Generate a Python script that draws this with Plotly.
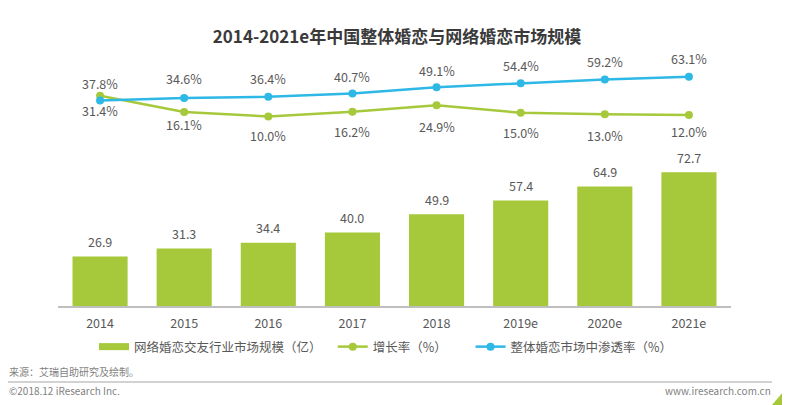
import plotly.graph_objects as go

# ---------------- data ----------------
years = ["2014", "2015", "2016", "2017", "2018", "2019e", "2020e", "2021e"]
market_size = [26.9, 31.3, 34.4, 40.0, 49.9, 57.4, 64.9, 72.7]          # 亿
growth_rate = [37.8, 16.1, 10.0, 16.2, 24.9, 15.0, 13.0, 12.0]          # %
penetration = [31.4, 34.6, 36.4, 40.7, 49.1, 54.4, 59.2, 63.1]          # %

title_text = "2014-2021e年中国整体婚恋与网络婚恋市场规模"
name_bar = "网络婚恋交友行业市场规模（亿）"
name_growth = "增长率（%）"
name_pen = "整体婚恋市场中渗透率（%）"
source_text = "来源：艾瑞自助研究及绘制。"
copyright_text = "©2018.12 iResearch Inc."
site_text = "www.iresearch.com.cn"

# ---------------- style ----------------
OFF = 8                      # page body margin of the browser
W, H = 790 - OFF, 405 - OFF
ML, MR, MT, MB = 58 - OFF, 59, 60 - OFF, 99
PW, PH = W - ML - MR, H - MT - MB
GREEN = "#A6C93B"
BLUE = "#2DB8E6"
TXT = "#595959"
FONT = "Noto Sans CJK SC, Noto Sans, sans-serif"
# label offsets in px (style only)
growth_label_shift = [12, -13, -19, -20, -21, -20, -21, -16]
pen_label_shift = [-10, 20, 18, 17, 17, 18, 18, 18]


def px_x(px):
    """reference-screen pixel -> plot-area paper fraction"""
    return (px - OFF - ML) / PW


def px_y(py):
    return (H - MB - (py - OFF)) / PH


fig = go.Figure()

fig.add_trace(go.Bar(
    x=years, y=market_size, marker=dict(color=GREEN, line=dict(width=0)),
    showlegend=False, hoverinfo="skip", yaxis="y"))

# legend proxy for bars (flat swatch)
fig.add_trace(go.Scatter(
    x=[None], y=[None], mode="lines", line=dict(color=GREEN, width=7),
    name=name_bar + "\u3000", yaxis="y"))

fig.add_trace(go.Scatter(
    x=years, y=growth_rate, mode="lines+markers", yaxis="y2",
    line=dict(color=GREEN, width=2.5), marker=dict(color=GREEN, size=8),
    name=name_growth + "\u3000\u3000"))

fig.add_trace(go.Scatter(
    x=years, y=penetration, mode="lines+markers", yaxis="y2",
    line=dict(color=BLUE, width=2.5), marker=dict(color=BLUE, size=8),
    name=name_pen))

lab_font = dict(size=12.5, color=TXT, family=FONT)
annotations = []
# bar value labels
for i, v in enumerate(market_size):
    annotations.append(dict(x=i, y=v, xref="x", yref="y", text=f"{v:.1f}",
                            showarrow=False, yanchor="middle", yshift=15,
                            font=lab_font))
# percent labels
for i, (g, p) in enumerate(zip(growth_rate, penetration)):
    annotations.append(dict(x=i, y=g, xref="x", yref="y2", text=f"{g:.1f}%",
                            showarrow=False, yanchor="middle",
                            yshift=growth_label_shift[i], font=lab_font))
    annotations.append(dict(x=i, y=p, xref="x", yref="y2", text=f"{p:.1f}%",
                            showarrow=False, yanchor="middle",
                            yshift=pen_label_shift[i], font=lab_font))

foot_font = dict(size=10, color="#7f7f7f", family=FONT)
annotations.append(dict(x=px_x(7), y=px_y(371), xref="paper", yref="paper",
                        text=source_text, showarrow=False, xanchor="left",
                        yanchor="middle", font=foot_font))
annotations.append(dict(x=px_x(7), y=px_y(390), xref="paper", yref="paper",
                        text=copyright_text, showarrow=False, xanchor="left",
                        yanchor="middle", font=foot_font))
annotations.append(dict(x=px_x(773), y=px_y(390), xref="paper", yref="paper",
                        text=site_text, showarrow=False, xanchor="right",
                        yanchor="middle", font=foot_font))

shapes = [
    dict(type="line", xref="paper", yref="paper", x0=px_x(OFF), x1=px_x(772),
         y0=px_y(382), y1=px_y(382), line=dict(color="#a6a6a6", width=1.2)),
    dict(type="path", xref="paper", yref="paper",
         path=(f"M {px_x(772)} {px_y(405)} L {px_x(790)} {px_y(384)} "
               f"L {px_x(790)} {px_y(405)} Z"),
         fillcolor=GREEN, line=dict(width=0)),
]

top_bar = PH / 1.84
zero_px_above_base = 306 - 124
sc = 0.75
y2_min = -zero_px_above_base / sc
y2_max = (PH - zero_px_above_base) / sc

fig.update_layout(
    width=W, height=H,
    margin=dict(l=ML, r=MR, t=MT, b=MB, pad=0),
    paper_bgcolor="white", plot_bgcolor="white",
    font=dict(family=FONT, color=TXT, size=12.5),
    title=dict(text=f"<b>{title_text}</b>", x=(397 - OFF) / W, xref="container",
               xanchor="center", y=1 - (37 - OFF) / H, yref="container",
               yanchor="middle", font=dict(size=17, color="#3a3a3a", family=FONT)),
    bargap=0.345,
    xaxis=dict(type="category", range=[-0.5, 7.5], showline=True,
               linecolor="#bfbfbf", linewidth=1.5, ticks="", showgrid=False,
               zeroline=False, ticklabelstandoff=5,
               tickfont=dict(size=12.5, color=TXT, family=FONT)),
    yaxis=dict(range=[0, top_bar], visible=False, showgrid=False),
    yaxis2=dict(range=[y2_min, y2_max], overlaying="y", visible=False,
                showgrid=False),
    legend=dict(orientation="h", x=px_x(94), xanchor="left", y=px_y(347),
                yanchor="middle", font=dict(size=12.5, color=TXT, family=FONT),
                bgcolor="rgba(0,0,0,0)", itemwidth=30),
    annotations=annotations,
    shapes=shapes,
    hovermode=False,
)

fig.write_html("out.html")
